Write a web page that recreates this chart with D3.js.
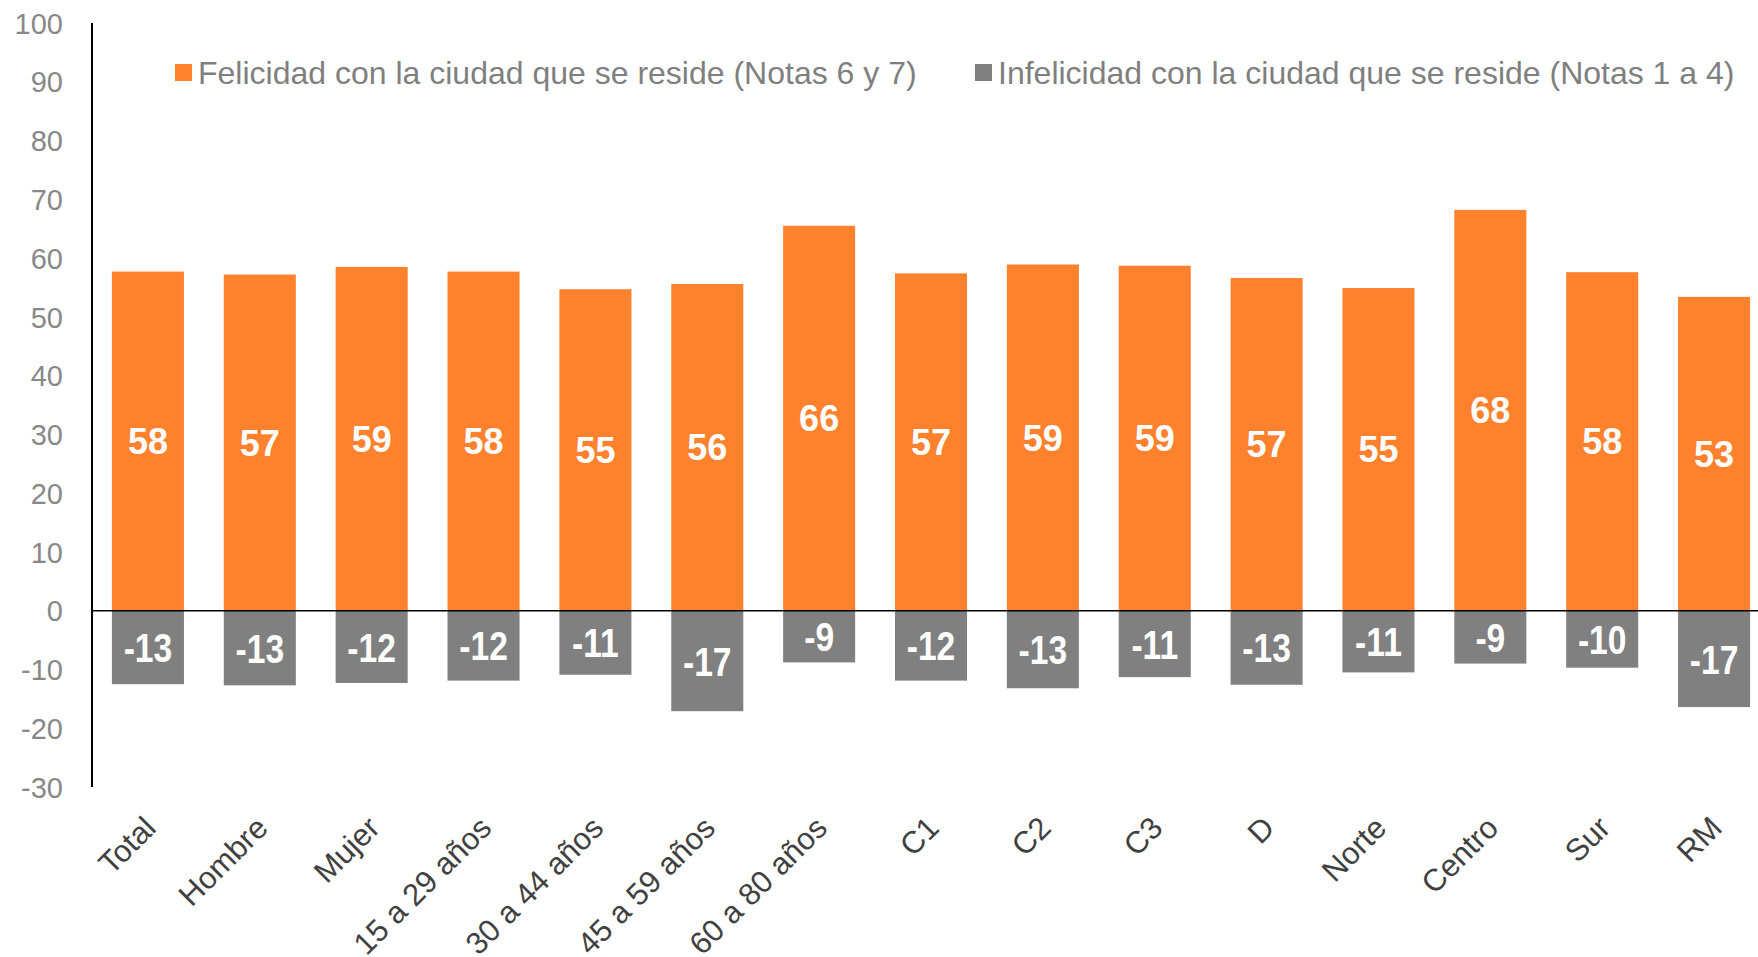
<!DOCTYPE html>
<html>
<head>
<meta charset="utf-8">
<script src="https://cdn.jsdelivr.net/npm/d3@7"></script>
<style>
  html, body { margin: 0; padding: 0; background: #fff; }
  svg { display: block; font-family: "Liberation Sans", Arial, sans-serif; }
</style>
</head>
<body>
<script>
// Chart data
const categories = ['Total', 'Hombre', 'Mujer', '15 a 29 años', '30 a 44 años', '45 a 59 años',
  '60 a 80 años', 'C1', 'C2', 'C3', 'D', 'Norte', 'Centro', 'Sur', 'RM'];
const happy = [57.7, 57.2, 58.5, 57.7, 54.7, 55.6, 65.5, 57.4, 58.9, 58.7, 56.6, 54.9, 68.2, 57.6, 53.4];
const unhappy = [-12.5, -12.7, -12.3, -11.9, -10.9, -17.1, -8.8, -11.9, -13.2, -11.3, -12.6, -10.5, -9.0, -9.7, -16.4];
const happyLabels = [58, 57, 59, 58, 55, 56, 66, 57, 59, 59, 57, 55, 68, 58, 53];
const unhappyLabels = [-13, -13, -12, -12, -11, -17, -9, -12, -13, -11, -13, -11, -9, -10, -17];
const yTicks = [100, 90, 80, 70, 60, 50, 40, 30, 20, 10, 0, -10, -20, -30];
const seriesNames = ['Felicidad con la ciudad que se reside (Notas 6 y 7)',
  'Infelicidad con la ciudad que se reside (Notas 1 a 4)'];

const w = 1758, h = 957;
const orange = '#fe822e', grey = '#808080';

const svg = d3.select('body').append('svg')
  .attr('width', w)
  .attr('height', h);

const x = d3.scaleBand()
  .domain(categories)
  .range([92, 1770])
  .paddingInner(0.356)
  .paddingOuter(0.178);

const y = d3.scaleLinear()
  .domain([-30, 100])
  .range([787, 23]);

// y axis labels (plain hyphen for negatives, like the original)
const yAxis = d3.axisLeft(y)
  .tickValues(yTicks)
  .tickFormat(d => String(d))
  .tickSize(0)
  .tickPadding(29);
const gy = svg.append('g')
  .attr('transform', 'translate(92,0)')
  .call(yAxis);
gy.select('.domain').remove();
gy.selectAll('text')
  .attr('fill', '#888888')
  .style('font-size', '29px')
  .attr('dy', '0.35em');

// bars
const rows = categories.map((c, i) => ({ c, pos: happy[i], neg: unhappy[i], pl: happyLabels[i], nl: unhappyLabels[i] }));

svg.selectAll('rect.pos')
  .data(rows)
  .enter().append('rect')
  .attr('class', 'pos')
  .attr('x', d => x(d.c))
  .attr('width', x.bandwidth())
  .attr('y', d => y(d.pos))
  .attr('height', d => y(0) - y(d.pos))
  .attr('fill', orange);

svg.selectAll('rect.neg')
  .data(rows)
  .enter().append('rect')
  .attr('class', 'neg')
  .attr('x', d => x(d.c))
  .attr('width', x.bandwidth())
  .attr('y', y(0))
  .attr('height', d => y(d.neg) - y(0))
  .attr('fill', grey);

// value labels
svg.selectAll('text.pl')
  .data(rows)
  .enter().append('text')
  .attr('class', 'pl')
  .attr('x', d => x(d.c) + x.bandwidth() / 2)
  .attr('y', d => (y(d.pos) + y(0)) / 2)
  .attr('dy', '0.36em')
  .attr('text-anchor', 'middle')
  .attr('fill', '#fff')
  .style('font-size', '36px')
  .style('font-weight', 'bold')
  .text(d => d.pl);

svg.selectAll('text.nl')
  .data(rows)
  .enter().append('text')
  .attr('class', 'nl')
  .attr('transform', d => 'translate(' + (x(d.c) + x.bandwidth() / 2) + ',' + ((y(d.neg) + y(0)) / 2) + ') scale(0.82,1)')
  .attr('dy', '0.36em')
  .attr('text-anchor', 'middle')
  .attr('fill', '#fff')
  .style('font-size', '41px')
  .style('font-weight', 'bold')
  .text(d => d.nl);

// zero line and y axis line
svg.append('line')
  .attr('x1', 92).attr('x2', w)
  .attr('y1', y(0)).attr('y2', y(0))
  .attr('stroke', '#000').attr('stroke-width', 1.5);

svg.append('line')
  .attr('x1', 92).attr('x2', 92)
  .attr('y1', y(100)).attr('y2', y(-30))
  .attr('stroke', '#000').attr('stroke-width', 2);

// category labels, rotated
svg.selectAll('text.cat')
  .data(categories)
  .enter().append('text')
  .attr('class', 'cat')
  .attr('transform', d => 'translate(' + (x(d) + x.bandwidth() / 2 - 6) + ',814) rotate(-45)')
  .attr('dy', '0.72em')
  .attr('text-anchor', 'end')
  .attr('fill', '#404040')
  .style('font-size', '31px')
  .text(d => d);

// legend
const legendX = [175, 975];
const legendColors = [orange, grey];
const lg = svg.selectAll('g.legend')
  .data(seriesNames)
  .enter().append('g')
  .attr('class', 'legend')
  .attr('transform', (d, i) => 'translate(' + legendX[i] + ',64)');

lg.append('rect')
  .attr('width', 17).attr('height', 17)
  .attr('fill', (d, i) => legendColors[i]);

lg.append('text')
  .attr('x', 23)
  .attr('y', 9)
  .attr('dy', '0.35em')
  .attr('fill', '#7f7f7f')
  .style('font-size', '32px')
  .text(d => d);
</script>
</body>
</html>
